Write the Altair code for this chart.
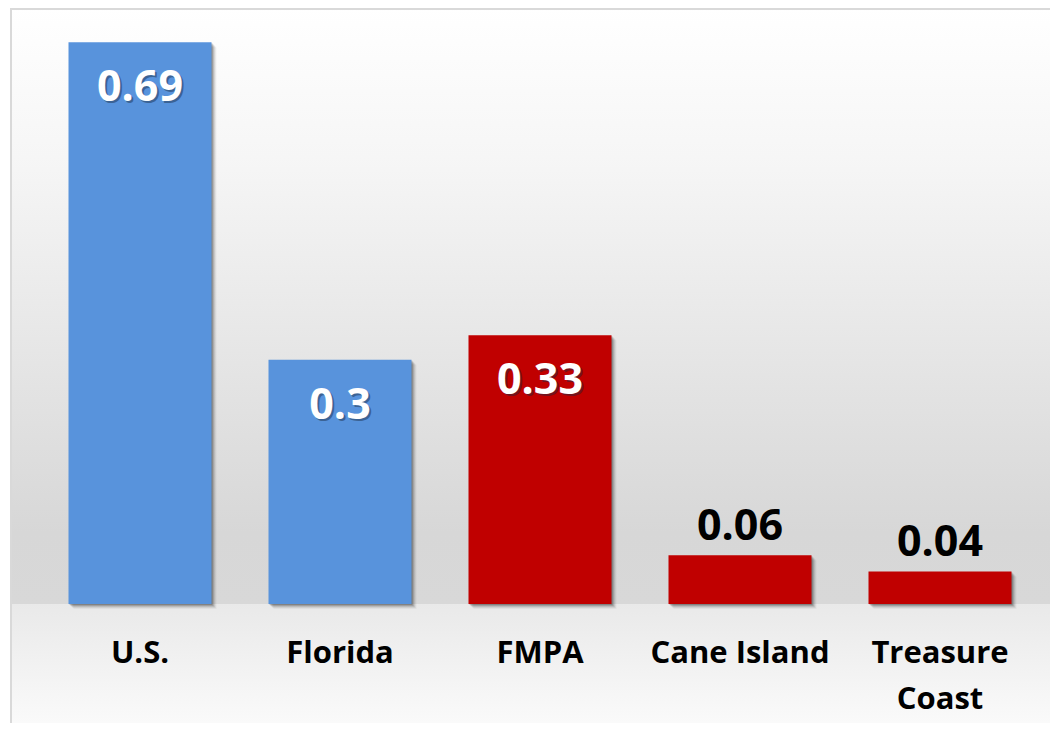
import altair as alt
import pandas as pd

categories = ["U.S.", "Florida", "FMPA", "Cane Island", "Treasure Coast"]
values = [0.69, 0.30, 0.33, 0.06, 0.04]
groups = ["national", "national", "fmpa", "fmpa", "fmpa"]
labels = ["0.69", "0.3", "0.33", "0.06", "0.04"]

df = pd.DataFrame({"cat": categories, "value": values, "group": groups, "label": labels})
one = pd.DataFrame({"a": [0]})

W, H = 1000, 584
FONT = "Open Sans"

x_enc = alt.X("cat:N", sort=categories, title=None,
              scale=alt.Scale(paddingInner=0.285, paddingOuter=0.1425),
              axis=alt.Axis(labelAngle=0, labelFont=FONT, labelFontSize=31, labelFontWeight="bold",
                            labelColor="#000000", ticks=False, domain=False, grid=False,
                            labelPadding=58, labelBaseline="alphabetic", labelLineHeight=46,
                            labelLimit=400, zindex=2,
                            labelExpr="datum.label == 'Treasure Coast' ? ['Treasure', 'Coast'] : datum.label"))
y_enc = alt.Y("value:Q", title=None, scale=alt.Scale(domain=[0, 0.7174], nice=False, zero=True),
              axis=None)

bg_top = alt.Chart(one).mark_rect(
    clip=False,
    color=alt.LinearGradient(gradient="linear", x1=0, x2=0, y1=0, y2=1,
                             stops=[alt.GradientStop(color="#ffffff", offset=0),
                                    alt.GradientStop(color="#f6f6f6", offset=0.25),
                                    alt.GradientStop(color="#d7d7d7", offset=0.88),
                                    alt.GradientStop(color="#d8d8d8", offset=1)])
).encode(x=alt.value(-29), x2=alt.value(1030), y=alt.value(-12), y2=alt.value(H))

bg_bot = alt.Chart(one).mark_rect(
    clip=False,
    color=alt.LinearGradient(gradient="linear", x1=0, x2=0, y1=0, y2=1,
                             stops=[alt.GradientStop(color="#e9e9e9", offset=0),
                                    alt.GradientStop(color="#fdfdfd", offset=1)])
).encode(x=alt.value(-29), x2=alt.value(1030), y=alt.value(H), y2=alt.value(H + 140))

border = alt.Chart(one).mark_rect(clip=False, fill=None, stroke="#d9d9d9", strokeWidth=2).encode(
    x=alt.value(-29), x2=alt.value(1060), y=alt.value(-11), y2=alt.value(H + 200))

base = alt.Chart(df)

shadows = [
    base.mark_bar(color="#000000", opacity=op, xOffset=o, yOffset=o).encode(x=x_enc, y=y_enc)
    for o, op in [(1, 0.18), (2, 0.14), (3, 0.10), (4, 0.07), (5, 0.04)]
]

bars = base.mark_bar().encode(
    x=x_enc, y=y_enc,
    color=alt.Color("group:N", legend=None,
                    scale=alt.Scale(domain=["national", "fmpa"], range=["#5893dc", "#c00000"])))

inside = base.transform_filter("datum.value >= 0.2")
in_shadow = inside.mark_text(font=FONT, fontSize=43, fontWeight="bold", color="#1a2a40", opacity=0.45,
                             baseline="alphabetic", dy=61, dx=2).encode(x=x_enc, y=y_enc, text="label:N")
in_text = inside.mark_text(font=FONT, fontSize=43, fontWeight="bold", color="#ffffff",
                           baseline="alphabetic", dy=59).encode(x=x_enc, y=y_enc, text="label:N")
above = base.transform_filter("datum.value < 0.2").mark_text(
    font=FONT, fontSize=43, fontWeight="bold", color="#000000", baseline="alphabetic", dy=-15
).encode(x=x_enc, y=y_enc, text="label:N")

chart = alt.layer(bg_top, bg_bot, border, *shadows, bars, in_shadow, in_text, above).properties(
    width=W, height=H,
    autosize=alt.AutoSizeParams(type="none"),
    padding={"left": 32, "top": 12, "right": 10, "bottom": 119},
).configure_view(stroke=None, clip=False)

chart.save("out.html", embed_options={"renderer": "svg", "actions": False})
